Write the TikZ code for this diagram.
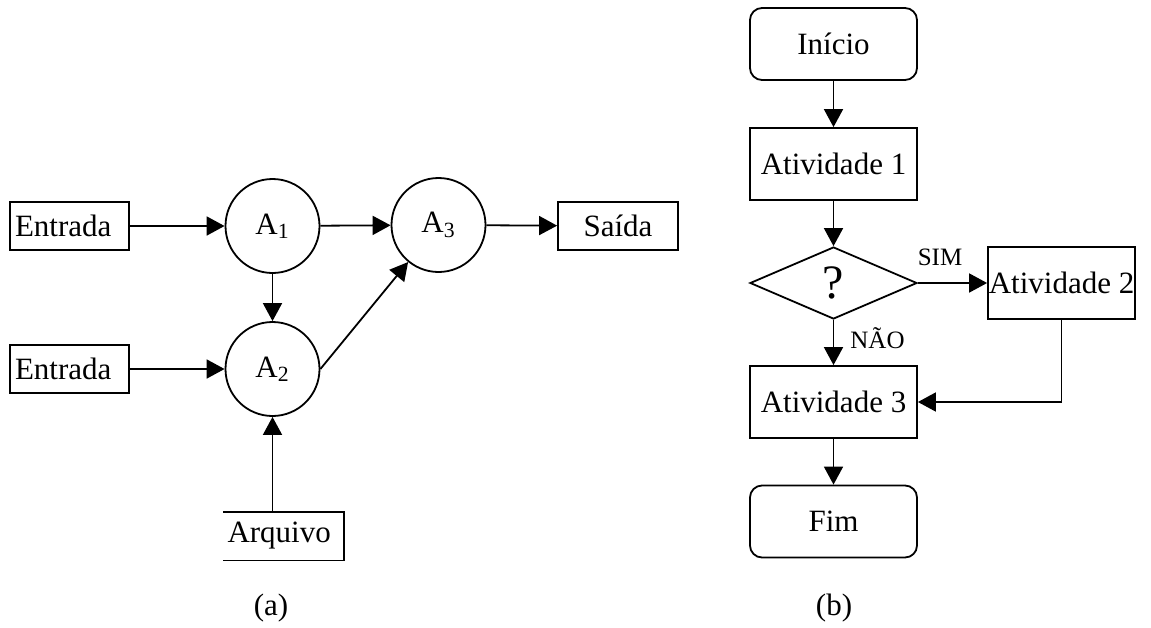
\documentclass[tikz,border=0pt]{standalone}
\usepackage{fontspec}
\setmainfont{Liberation Serif}
\usetikzlibrary{arrows.meta,shapes.geometric}
\begin{document}
\begin{tikzpicture}[x=0.5pt,y=-0.5pt,
  every node/.style={font=\fontsize{15.5}{18}\selectfont},
  line/.style={line width=0.9pt},
  arr/.style={line width=0.9pt,-{Triangle[length=9pt,width=9.5pt]}},
  proc/.style={draw,line width=0.9pt,minimum width=83.5pt,minimum height=36pt,inner sep=0pt},
  term/.style={proc,rounded corners=6pt},
  iobox/.style={draw,line width=0.9pt,minimum height=24pt,inner sep=0pt},
  func/.style={draw,circle,line width=0.9pt,minimum size=47pt,inner sep=0pt},
  tag/.style={font=\fontsize{12.5}{14}\selectfont,inner sep=0pt}]
\useasboundingbox (0,0) rectangle (1151,627);

% (a) functional diagram
\node[iobox,text width=54.5pt,inner xsep=2.5pt,align=left] (e1) at (69.5,226) {Entrada};
\node[iobox,text width=54.5pt,inner xsep=2.5pt,align=left] (e2) at (69.5,369) {Entrada};
\node[func] (a1) at (272.5,226) {A\textsubscript{1}};
\node[func] (a2) at (272.5,369) {A\textsubscript{2}};
\node[func] (a3) at (438.5,225) {A\textsubscript{3}};
\node[iobox,minimum width=60pt] (out) at (618,226) {Saída};
\node[minimum height=24pt,text width=56pt,inner xsep=2pt,align=left,inner ysep=0pt] (arq) at (283.5,536) {Arquivo};
\draw[line] (arq.north west) -- (arq.north east) -- (arq.south east) -- (arq.south west);

\draw[arr] (e1) -- (a1);
\draw[arr] (e2) -- (a2);
\draw[arr] (a1) -- (a2);
\draw[arr] (a1) -- (a3);
\draw[arr] (a2.east) -- (a3);
\draw[arr] (a3) -- (out);
\draw[arr] (a2 |- arq.north) -- (a2);

\node (capa) at (271,608) {(a)};

% (b) flowchart
\node[term] (ini) at (833.5,44) {Início};
\node[proc] (at1) at (833.5,164) {Atividade 1};
\node[draw,diamond,line width=0.9pt,minimum width=83.5pt,minimum height=36pt,inner sep=0pt,font=\fontsize{24}{26}\selectfont] (dec) at (833.5,283) {?};
\node[proc,minimum width=73.5pt] (at2) at (1061.5,283) {Atividade 2};
\node[proc] (at3) at (833.5,402) {Atividade 3};
\node[term] (fim) at (833.5,521.5) {Fim};

\draw[arr] (ini) -- (at1);
\draw[arr] (at1) -- (dec);
\draw[arr] (dec) -- (at2);
\draw[arr] (dec) -- (at3);
\draw[arr] (at2.south) |- (at3.east);
\draw[arr] (at3) -- (fim);

\node[tag] (sim) at (940,257) {SIM};
\node[tag] (nao) at (877.5,338) {NÃO};

\node (capb) at (834,608) {(b)};
\end{tikzpicture}
\end{document}
